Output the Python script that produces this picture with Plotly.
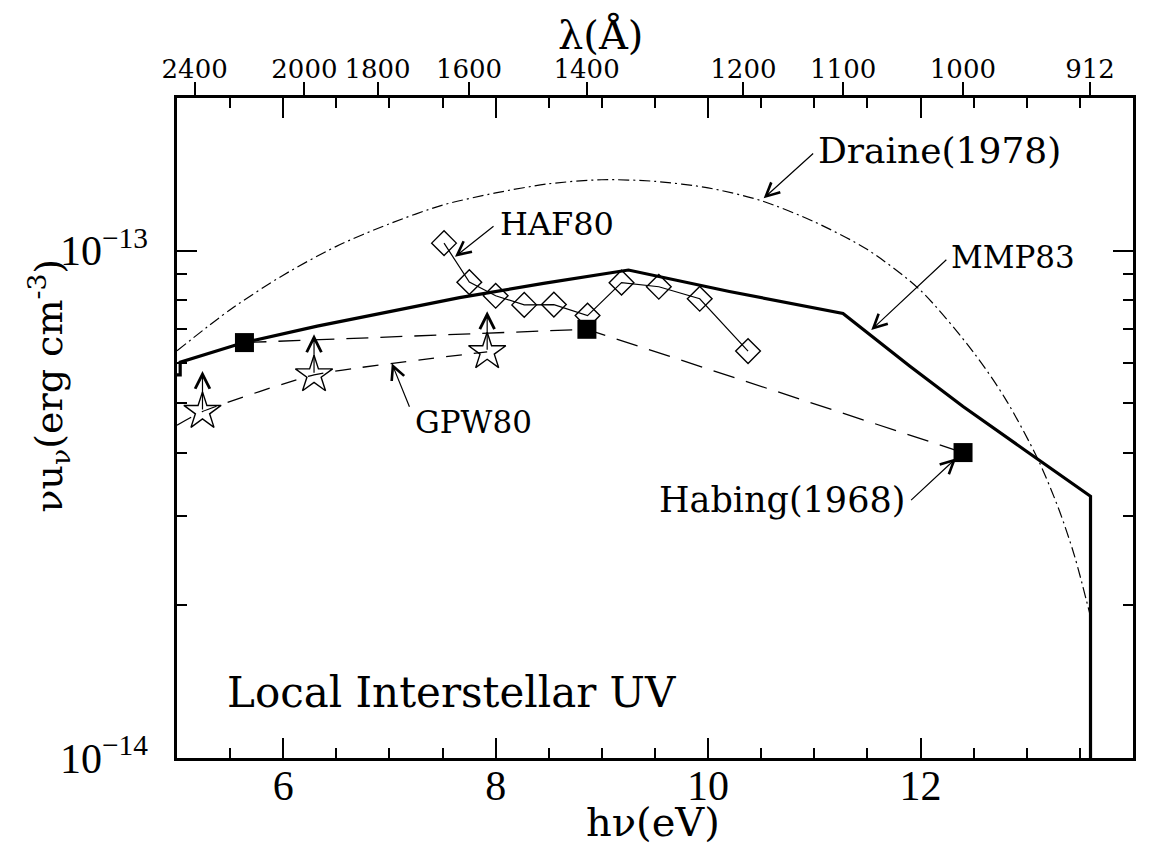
import numpy as np
import plotly.graph_objects as go

# ---------------- data ----------------
# photon energy h nu (eV) and nu u_nu (erg cm^-3)
draine_E = [5.0, 5.5, 6.0, 6.5, 7.0, 7.5, 8.0, 8.5, 9.0, 9.5, 10.0, 10.5,
            11.0, 11.5, 12.0, 12.5, 12.8, 13.1, 13.3, 13.45, 13.6]
draine_v = [6.35e-14, 7.65e-14, 8.95e-14, 1.02e-13, 1.13e-13, 1.23e-13, 1.30e-13,
            1.355e-13, 1.38e-13, 1.37e-13, 1.33e-13, 1.255e-13, 1.14e-13, 1.005e-13,
            8.35e-14, 6.3e-14, 5.1e-14, 3.9e-14, 3.1e-14, 2.5e-14, 1.9e-14]

mmp_E = [5.0, 5.03, 5.03, 5.63, 6.32, 7.0, 7.66, 8.45, 9.25, 10.2, 11.27,
         11.9, 12.4, 13.0, 13.6, 13.6]
mmp_v = [5.69e-14, 5.69e-14, 6.03e-14, 6.59e-14, 7.10e-14, 7.59e-14, 8.08e-14,
         8.62e-14, 9.16e-14, 8.31e-14, 7.52e-14, 5.92e-14, 4.93e-14, 4.02e-14,
         3.28e-14, 1e-15]

habing_E = [5.635, 8.859, 12.40]
habing_v = [6.59e-14, 7.0e-14, 4.0e-14]

gpw_line_E = [5.0, 5.24, 6.29, 7.92]
gpw_line_v = [4.53e-14, 4.82e-14, 5.69e-14, 6.32e-14]
gpw_E = [5.24, 6.29, 7.92]
gpw_v = [4.82e-14, 5.69e-14, 6.32e-14]

haf_E = [7.514, 7.752, 8.0, 8.269, 8.548, 8.865, 9.185, 9.536, 9.921, 10.376]
haf_v = [1.035e-13, 8.67e-14, 8.15e-14, 7.82e-14, 7.83e-14, 7.45e-14,
         8.65e-14, 8.49e-14, 8.04e-14, 6.34e-14]

x_ticks = [6, 8, 10, 12]
lam_ticks = [2400, 2000, 1800, 1600, 1400, 1200, 1100, 1000, 912]
y_major = [1e-14, 1e-13]
y_major_text = ["10<sup>\u221214</sup>", "10<sup>\u221213</sup>"]
y_minor = [2e-14, 3e-14, 4e-14, 5e-14, 6e-14, 7e-14, 8e-14, 9e-14, 2e-13]

HC = 12398.4  # eV * Angstrom
lam_pos = [HC / l for l in lam_ticks]

SERIF = "DejaVu Serif"
TICKF = "Liberation Serif"

fig = go.Figure()

fig.add_trace(go.Scatter(x=draine_E, y=draine_v, mode="lines",
                         line=dict(color="black", width=1.2, dash="11px,4px,2px,4px",
                                   shape="spline", smoothing=0.8),
                         hoverinfo="skip", showlegend=False))
fig.add_trace(go.Scatter(x=mmp_E, y=mmp_v, mode="lines",
                         line=dict(color="black", width=3.2),
                         showlegend=False))
fig.add_trace(go.Scatter(x=habing_E, y=habing_v, mode="lines+markers",
                         line=dict(color="black", width=1.3, dash="22px,12px"),
                         marker=dict(symbol="square", size=19, color="black"),
                         showlegend=False))
fig.add_trace(go.Scatter(x=gpw_line_E, y=gpw_line_v, mode="lines",
                         line=dict(color="black", width=1.3, dash="16px,12px",
                                   shape="spline", smoothing=0.5),
                         showlegend=False))
fig.add_trace(go.Scatter(x=gpw_E, y=gpw_v, mode="markers",
                         marker=dict(symbol="star-open", size=28, color="black",
                                     line=dict(width=1.4, color="black")),
                         showlegend=False))
fig.add_trace(go.Scatter(x=haf_E, y=haf_v, mode="lines+markers",
                         line=dict(color="black", width=1.2),
                         marker=dict(symbol="diamond-open", size=19, color="black",
                                     line=dict(width=1.4, color="black")),
                         showlegend=False))

# dummy trace for top axis
fig.add_trace(go.Scatter(x=[5, 14], y=[1e-14, 1e-14], xaxis="x2", mode="lines",
                         line=dict(width=0), hoverinfo="skip", showlegend=False))

ann = []
# lower-limit arrows on GPW80 stars
for e, v in zip(gpw_E, gpw_v):
    ann.append(dict(x=e, y=np.log10(v) + 0.08, xref="x", yref="y", ax=0, ay=40,
                    axref="pixel", ayref="pixel", text="", showarrow=True,
                    arrowhead=5, arrowsize=2.4, arrowwidth=1.2, arrowcolor="black"))

def label(text, x, y, size=34, xanchor="left"):
    ann.append(dict(x=x, y=y, xref="x", yref="y", text=text, showarrow=False,
                    xanchor=xanchor, yanchor="middle",
                    font=dict(family=SERIF, size=size, color="black")))

def pointer(x_tail, y_tail, x_head, y_head):
    ann.append(dict(x=x_head, y=y_head, ax=x_tail, ay=y_tail, xref="x", yref="y",
                    axref="x", ayref="y", text="", showarrow=True, arrowhead=5,
                    arrowsize=2.2, arrowwidth=1.2, arrowcolor="black"))

label("Draine(1978)", 11.02, -12.802, size=36)
pointer(11.003, -12.8056, 10.523, -12.8968)
label("MMP83", 12.27, -13.013, size=31)
pointer(12.257, -13.015, 11.536, -13.1562)
label("HAF80", 8.02, -12.947, size=32)
pointer(7.994, -12.9494, 7.617, -13.0118)
label("GPW80", 7.22, -13.337, size=31)
pointer(7.194, -13.3105, 7.022, -13.2218)
label("Habing(1968)", 11.87, -13.491, size=35, xanchor="right")
pointer(11.897, -13.4945, 12.336, -13.409)
label("Local Interstellar UV", 5.45, -13.871, size=42)

# axis titles
ann.append(dict(x=0.4425, y=1.096, xref="paper", yref="paper", text="\u03bb(\u00c5)",
                xanchor="center", yanchor="middle",
                showarrow=False, font=dict(family=SERIF, size=40, color="black")))
ann.append(dict(x=0.498, y=-0.097, xref="paper", yref="paper", text="h\u03bd(eV)",
                xanchor="center", yanchor="middle",
                showarrow=False, font=dict(family=SERIF, size=40, color="black")))
ann.append(dict(x=-0.1345, y=0.565, xref="paper", yref="paper", textangle=-90,
                xanchor="center", yanchor="middle",
                text="\u03bdu<sub>\u03bd</sub>(erg cm<sup>-3</sup>)",
                showarrow=False, font=dict(family=SERIF, size=38, color="black")))

fig.update_layout(
    width=1151, height=843,
    margin=dict(l=177, r=18, t=98, b=85),
    paper_bgcolor="white", plot_bgcolor="white",
    showlegend=False,
    annotations=ann,
    xaxis=dict(range=[5, 14], tickvals=x_ticks, ticktext=[str(t) for t in x_ticks],
               ticks="inside", ticklen=20, tickwidth=1.5, tickcolor="black",
               minor=dict(dtick=0.5, tick0=5, ticks="inside", ticklen=10,
                          tickwidth=1.5, tickcolor="black", showgrid=False),
               showline=True, linewidth=2.5, linecolor="black", mirror="ticks",
               showgrid=False, zeroline=False, ticklabelstandoff=-11,
               tickfont=dict(family=TICKF, size=42, color="black")),
    xaxis2=dict(range=[5, 14], overlaying="x", side="top", anchor="y",
                tickvals=lam_pos, ticktext=[str(l) for l in lam_ticks],
                ticks="outside", ticklen=15, tickwidth=1.5, tickcolor="black",
                showline=False, showgrid=False, zeroline=False, ticklabelstandoff=-6,
                tickfont=dict(family=SERIF, size=26, color="black")),
    yaxis=dict(type="log", range=[-14, np.log10(2e-13)],
               tickvals=y_major, ticktext=y_major_text,
               ticks="inside", ticklen=20, tickwidth=1.5, tickcolor="black",
               minor=dict(tickmode="array", tickvals=y_minor, ticks="inside",
                          ticklen=10, tickwidth=1.5, tickcolor="black", showgrid=False),
               showline=True, linewidth=2.5, linecolor="black", mirror="ticks",
               showgrid=False, zeroline=False, ticklabelstandoff=18,
               tickfont=dict(family=TICKF, size=42, color="black")),
)

fig.write_html("out.html")
